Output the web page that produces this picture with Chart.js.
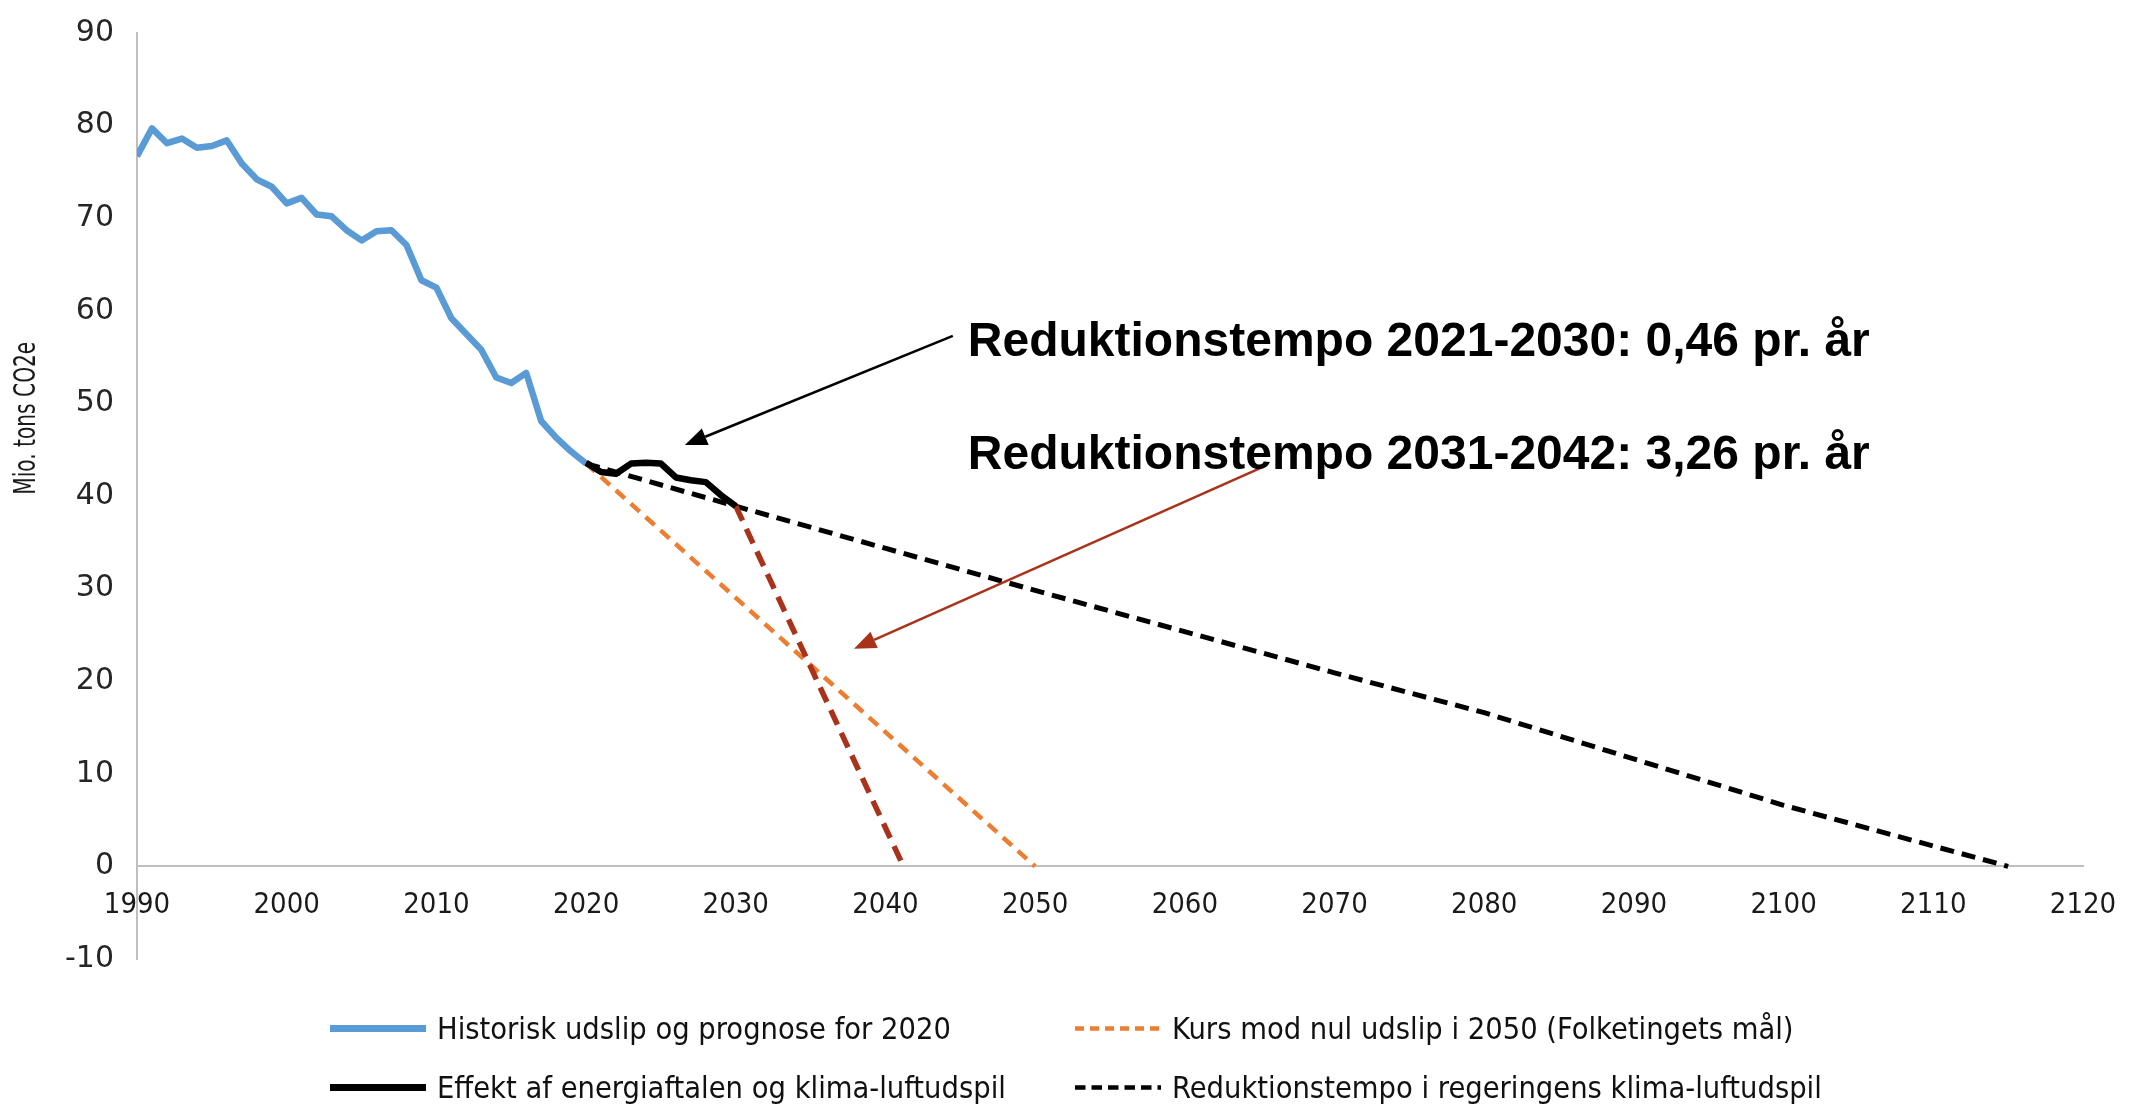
<!DOCTYPE html>
<html>
<head>
<meta charset="utf-8">
<script src="https://cdn.jsdelivr.net/npm/chart.js@4.4.1/dist/chart.umd.min.js"></script>
<style>
  html, body { margin: 0; padding: 0; background: #fff; }
  #wrap { position: relative; width: 2143px; height: 1106px; }
  #legend { position: absolute; left: 0; top: 0; font-family: 'Liberation Sans Narrow', 'DejaVu Sans Condensed', sans-serif; font-size: 30.5px; color: #111; }
  .item { position: absolute; display: flex; align-items: center; white-space: nowrap; transform: translateY(-50%); }
  .item svg { margin-right: 11px; }
</style>
</head>
<body>
<div id="wrap">
  <canvas id="my-chart" width="2143" height="1106"></canvas>
  <div id="legend"></div>
</div>
<script>
'use strict';

//***********Data***********
let histYears = [1990, 1991, 1992, 1993, 1994, 1995, 1996, 1997, 1998, 1999, 2000,
  2001, 2002, 2003, 2004, 2005, 2006, 2007, 2008, 2009, 2010,
  2011, 2012, 2013, 2014, 2015, 2016, 2017, 2018, 2019, 2020];
let histValues = [76.7, 79.7, 78.1, 78.6, 77.6, 77.8, 78.4, 75.9, 74.2, 73.4, 71.6,
  72.2, 70.4, 70.2, 68.7, 67.6, 68.6, 68.7, 67.1, 63.3, 62.5,
  59.2, 57.5, 55.8, 52.8, 52.2, 53.3, 48.1, 46.3, 44.8, 43.5];

let effektYears = [2020, 2021, 2022, 2023, 2024, 2025, 2026, 2027, 2028, 2029, 2030];
let effektValues = [43.6, 42.6, 42.4, 43.5, 43.6, 43.5, 42.0, 41.7, 41.5, 40.1, 38.9];

let kursYears = [2020, 2050];
let kursValues = [43.5, 0];

let tempoYears = [2020, 2030, 2050, 2070, 2080, 2100, 2115];
let tempoValues = [43.5, 38.9, 29.8, 20.9, 16.6, 6.6, 0];

let fastYears = [2030, 2041.2];
let fastValues = [38.9, 0];

let xTicks = [1990, 2000, 2010, 2020, 2030, 2040, 2050, 2060, 2070, 2080, 2090, 2100, 2110, 2120];
let yTicks = [-10, 0, 10, 20, 30, 40, 50, 60, 70, 80, 90];

let legendLabels = [
  'Historisk udslip og prognose for 2020',
  'Kurs mod nul udslip i 2050 (Folketingets mål)',
  'Effekt af energiaftalen og klima-luftudspil',
  'Reduktionstempo i regeringens klima-luftudspil'
];

let yTitle = 'Mio. tons CO2e';
let noteTexts = ['Reduktionstempo 2021-2030: 0,46 pr. år', 'Reduktionstempo 2031-2042: 3,26 pr. år'];

//***********Styles and placement***********
let blue = '#5B9BD5';
let orange = '#ED7D31';
let redBrown = '#A8331A';
let narrow = "'Liberation Sans Narrow', 'DejaVu Sans Condensed', sans-serif";

// notes in data coordinates: [year, value]
let notePlaces = [[2045.5, 55.1], [2045.5, 42.9]];
let arrowPlaces = [
  { from: [2044.5, 57.3], to: [2026.6, 45.5], color: '#000000', width: 2.5 },
  { from: [2065.3, 43.2], to: [2037.9, 23.5], color: redBrown, width: 2.5 }
];
let yTitleSpot = { x: 27, value: 48.4, width: 153 };

function toPoints(xs, ys) {
  let pts = [];
  for (let i = 0; i < xs.length; i++) {
    pts.push({ x: xs[i], y: ys[i] });
  }
  return pts;
}

let notesPlugin = {
  id: 'notes',
  afterDatasetsDraw(chart) {
    let ctx = chart.ctx;
    let sx = chart.scales.x;
    let sy = chart.scales.y;
    ctx.save();
    arrowPlaces.forEach(function (a) {
      let x1 = sx.getPixelForValue(a.from[0]);
      let y1 = sy.getPixelForValue(a.from[1]);
      let x2 = sx.getPixelForValue(a.to[0]);
      let y2 = sy.getPixelForValue(a.to[1]);
      let ang = Math.atan2(y2 - y1, x2 - x1);
      let headLen = 22;
      let headW = 9;
      let bx = x2 - headLen * Math.cos(ang);
      let by = y2 - headLen * Math.sin(ang);
      ctx.strokeStyle = a.color;
      ctx.fillStyle = a.color;
      ctx.lineWidth = a.width;
      ctx.beginPath();
      ctx.moveTo(x1, y1);
      ctx.lineTo(bx, by);
      ctx.stroke();
      ctx.beginPath();
      ctx.moveTo(x2, y2);
      ctx.lineTo(bx + headW * Math.sin(ang), by - headW * Math.cos(ang));
      ctx.lineTo(bx - headW * Math.sin(ang), by + headW * Math.cos(ang));
      ctx.closePath();
      ctx.fill();
    });
    ctx.fillStyle = '#000000';
    ctx.font = "bold 49px 'Liberation Sans', Arial, sans-serif";
    ctx.textAlign = 'left';
    ctx.textBaseline = 'alphabetic';
    noteTexts.forEach(function (t, i) {
      let px = sx.getPixelForValue(notePlaces[i][0]);
      let py = sy.getPixelForValue(notePlaces[i][1]);
      ctx.fillText(t, px, py, 902);
    });

    // y axis title, placed where the original has it (a bit above the middle)
    ctx.translate(yTitleSpot.x, sy.getPixelForValue(yTitleSpot.value));
    ctx.rotate(-Math.PI / 2);
    ctx.font = '31px ' + narrow;
    ctx.fillStyle = '#1a1a1a';
    ctx.textAlign = 'center';
    ctx.textBaseline = 'middle';
    ctx.fillText(yTitle, 0, 0, yTitleSpot.width);
    ctx.restore();
  }
};

let datasets = [
  { label: legendLabels[2], data: toPoints(effektYears, effektValues), borderColor: '#000000', borderWidth: 6.5 },
  { label: 'Reduktionstempo 2031-2042', data: toPoints(fastYears, fastValues), borderColor: redBrown, borderWidth: 5.5, borderDash: [16, 9] },
  { label: legendLabels[3], data: toPoints(tempoYears, tempoValues), borderColor: '#000000', borderWidth: 5, borderDash: [14, 8] },
  { label: legendLabels[1], data: toPoints(kursYears, kursValues), borderColor: orange, borderWidth: 4.5, borderDash: [12, 8] },
  { label: legendLabels[0], data: toPoints(histYears, histValues), borderColor: blue, borderWidth: 6.5 }
];

let myChartObj = {
  type: 'line',
  data: { datasets: datasets },
  options: {
    responsive: false,
    animation: false,
    devicePixelRatio: 1,
    layout: { padding: { left: 0, right: 60, top: 24, bottom: 147 } },
    elements: {
      point: { radius: 0 },
      line: { tension: 0, borderCapStyle: 'butt', borderJoinStyle: 'round' }
    },
    plugins: {
      legend: { display: false },
      tooltip: { enabled: false }
    },
    scales: {
      x: {
        type: 'linear',
        position: { y: 0 },
        min: xTicks[0],
        max: xTicks[xTicks.length - 1],
        afterBuildTicks: function (scale) {
          scale.ticks = xTicks.map(function (v) { return { value: v }; });
        },
        grid: { display: false },
        border: { display: true, color: '#BFBFBF', width: 2 },
        ticks: {
          color: '#1a1a1a',
          padding: 14,
          maxRotation: 0,
          font: { family: narrow, size: 29 },
          callback: function (v) { return String(v); }
        }
      },
      y: {
        min: yTicks[0],
        max: yTicks[yTicks.length - 1],
        afterBuildTicks: function (scale) {
          scale.ticks = yTicks.map(function (v) { return { value: v }; });
        },
        afterFit: function (scale) { scale.width = 137; },
        grid: { display: false },
        border: { display: true, color: '#BFBFBF', width: 2 },
        ticks: {
          color: '#262626',
          padding: 15,
          font: { family: "'DejaVu Sans', sans-serif", size: 30 }
        }
      }
    }
  },
  plugins: [notesPlugin]
};

let customerChart = document.getElementById('my-chart');
new Chart(customerChart, myChartObj);

// HTML legend laid out as a 2 x 2 grid like the original
let legendSpots = [[330, 1028, 96], [1075, 1028, 86], [330, 1087, 96], [1075, 1087, 86]];
let legendBox = document.getElementById('legend');
legendLabels.forEach(function (label, i) {
  let ds = datasets.find(function (d) { return d.label === label; });
  let dash = ds.borderDash ? ds.borderDash.map(function (d) { return d * 0.75; }).join(' ') : 'none';
  let thick = ds.borderDash ? 4.5 : 7;
  let len = legendSpots[i][2];
  let div = document.createElement('div');
  div.className = 'item';
  div.style.left = legendSpots[i][0] + 'px';
  div.style.top = legendSpots[i][1] + 'px';
  div.innerHTML = '<svg width="' + len + '" height="14"><line x1="0" y1="7" x2="' + len + '" y2="7" stroke="' + ds.borderColor +
    '" stroke-width="' + thick + '" stroke-dasharray="' + dash + '"/></svg><span>' + label + '</span>';
  legendBox.appendChild(div);
});
</script>
</body>
</html>
